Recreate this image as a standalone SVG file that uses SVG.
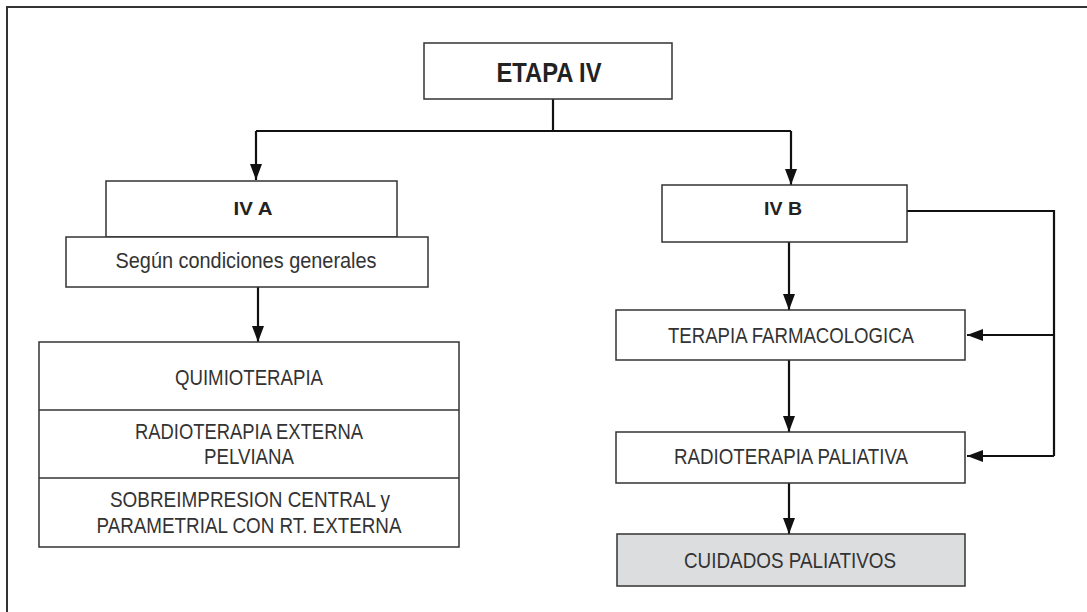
<svg xmlns="http://www.w3.org/2000/svg" width="1087" height="612" viewBox="0 0 1087 612">
<defs>
<marker id="arr" markerUnits="userSpaceOnUse" markerWidth="16" markerHeight="16" viewBox="0 0 16 16" refX="16" refY="8" orient="auto">
<path d="M0,2 L16,8 L0,14 Z" fill="#111"/>
</marker>
<style>
.box{fill:#fff;stroke:#333;stroke-width:1.5}
.grey{fill:#dcdddf;stroke:#333;stroke-width:1.5}
.t{font-family:"Liberation Sans Narrow","Liberation Sans",Arial,sans-serif;font-size:22px;fill:#333;text-anchor:middle}
.b{font-family:"Liberation Sans Narrow","Liberation Sans",Arial,sans-serif;font-weight:bold;fill:#222;text-anchor:middle}
.c{fill:none;stroke:#111;stroke-width:2.2}
.frame{fill:none;stroke:#333;stroke-width:2}
</style>
</defs>
<rect width="1087" height="612" fill="#fff"/>
<path class="frame" d="M7,620 L7,7 L1095,7"/>
<g id="connectors">
<path class="c" d="M553,99 L553,131"/>
<path class="c" d="M256,131 L791,131"/>
<path class="c" d="M256,131 L256,180" marker-end="url(#arr)"/>
<path class="c" d="M791,131 L791,185" marker-end="url(#arr)"/>
<path class="c" d="M258,287 L258,342" marker-end="url(#arr)"/>
<path class="c" d="M789,242 L789,310" marker-end="url(#arr)"/>
<path class="c" d="M789,360 L789,432" marker-end="url(#arr)"/>
<path class="c" d="M789,483 L789,534" marker-end="url(#arr)"/>
<path class="c" d="M907,211 L1054,211 L1054,456"/>
<path class="c" d="M1054,335 L967,335" marker-end="url(#arr)"/>
<path class="c" d="M1054,456 L967,456" marker-end="url(#arr)"/>
</g>
<g id="etapa">
<rect class="box" x="424" y="43" width="248" height="56"/>
<text class="b" x="549" y="82" font-size="28" textLength="105" lengthAdjust="spacingAndGlyphs">ETAPA IV</text>
</g>
<g id="iva">
<rect class="box" x="106" y="181" width="291" height="56"/>
<text class="b" x="253" y="215" font-size="18" textLength="39" lengthAdjust="spacingAndGlyphs">IV A</text>
</g>
<g id="segun">
<rect class="box" x="66" y="237" width="362" height="50"/>
<text class="t" x="246" y="268" textLength="261" lengthAdjust="spacingAndGlyphs">Según condiciones generales</text>
</g>
<g id="treatA">
<rect class="box" x="39" y="342" width="420" height="205"/>
<line x1="39" y1="410" x2="459" y2="410" stroke="#333" stroke-width="1.5"/>
<line x1="39" y1="478" x2="459" y2="478" stroke="#333" stroke-width="1.5"/>
<text class="t" x="249" y="385" textLength="148" lengthAdjust="spacingAndGlyphs">QUIMIOTERAPIA</text>
<text class="t" x="249" y="439" textLength="228" lengthAdjust="spacingAndGlyphs">RADIOTERAPIA EXTERNA</text>
<text class="t" x="249" y="464" textLength="90" lengthAdjust="spacingAndGlyphs">PELVIANA</text>
<text class="t" x="250" y="507" textLength="280" lengthAdjust="spacingAndGlyphs">SOBREIMPRESION CENTRAL y</text>
<text class="t" x="249" y="533" textLength="305" lengthAdjust="spacingAndGlyphs">PARAMETRIAL CON RT. EXTERNA</text>
</g>
<g id="ivb">
<rect class="box" x="662" y="185" width="245" height="57"/>
<text class="b" x="783" y="215" font-size="18" textLength="38" lengthAdjust="spacingAndGlyphs">IV B</text>
</g>
<g id="terapia">
<rect class="box" x="616" y="310" width="349" height="50"/>
<text class="t" x="791" y="343" textLength="246" lengthAdjust="spacingAndGlyphs">TERAPIA FARMACOLOGICA</text>
</g>
<g id="radio">
<rect class="box" x="616" y="432" width="349" height="51"/>
<text class="t" x="791" y="464" textLength="234" lengthAdjust="spacingAndGlyphs">RADIOTERAPIA PALIATIVA</text>
</g>
<g id="cuidados">
<rect class="grey" x="617" y="534" width="348" height="52"/>
<text class="t" x="790" y="568" textLength="212" lengthAdjust="spacingAndGlyphs">CUIDADOS PALIATIVOS</text>
</g>
</svg>
